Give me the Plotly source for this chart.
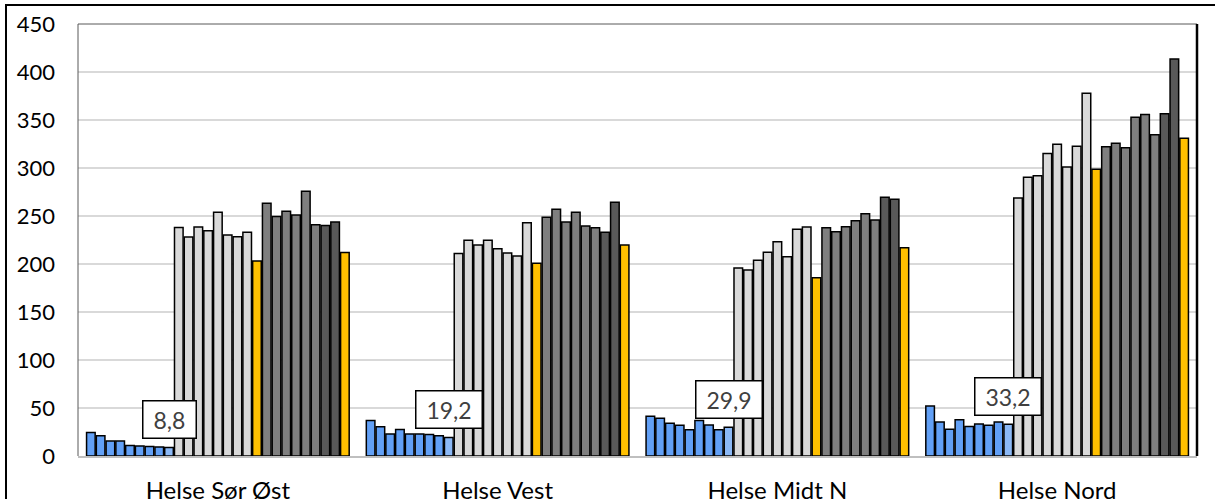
import plotly.graph_objects as go

groups = ["Helse Sør Øst", "Helse Vest", "Helse Midt N", "Helse Nord"]

# 27 bars per group: 9 blue, 8 light grey + 1 yellow, 8 dark grey + 1 yellow
vals_hso = [24.5, 21.0, 15.5, 15.5, 11.0, 10.5, 10.0, 9.5, 8.8,
            238.0, 228.0, 238.5, 234.7, 253.8, 230.2, 228.5, 233.0, 203.0,
            263.2, 249.6, 254.9, 251.0, 275.7, 241.0, 240.0, 243.7, 212.0]
vals_vest = [37.0, 30.5, 23.0, 27.5, 23.0, 23.0, 22.5, 21.0, 19.2,
             211.0, 224.7, 219.8, 224.7, 216.0, 211.5, 208.3, 243.0, 200.7,
             248.6, 257.0, 243.7, 253.8, 239.6, 237.8, 233.0, 264.2, 219.8]
vals_midt = [41.3, 39.2, 34.0, 32.0, 27.4, 37.1, 32.3, 27.4, 29.9,
             195.8, 193.8, 203.8, 212.2, 223.3, 207.6, 236.1, 238.5, 185.8,
             237.8, 233.7, 238.9, 245.1, 252.4, 245.8, 269.5, 267.4, 217.0]
vals_nord = [52.0, 35.4, 27.8, 37.8, 30.6, 33.3, 32.0, 35.4, 33.2,
             268.8, 290.3, 292.0, 315.0, 324.7, 301.0, 322.6, 377.8, 298.6,
             322.2, 325.7, 321.1, 352.8, 355.6, 334.7, 356.6, 413.5, 331.0]

label_values = [8.8, 19.2, 29.9, 33.2]
label_texts = ["8,8", "19,2", "29,9", "33,2"]

y_ticks = [0, 50, 100, 150, 200, 250, 300, 350, 400, 450]

BLUE = "#62a0f6"
BLUE_L = "#8cb9f6"
LGREY = "#d9d9d9"
YEL = "#ffc000"
DGREY = "#7f7f7f"
DDGREY = "#595959"
colors = [BLUE] * 8 + [BLUE_L] + [LGREY] * 8 + [YEL] + [DGREY] * 6 + [DDGREY] * 2 + [YEL]

table = [vals_hso, vals_vest, vals_midt, vals_nord]

fig = go.Figure()
for k in range(27):
    fig.add_trace(go.Bar(
        x=groups,
        y=[row[k] for row in table],
        marker=dict(color=colors[k], line=dict(color="#000000", width=1.5)),
        showlegend=False,
        hoverinfo="y",
    ))

font_family = "Lato, 'Open Sans', sans-serif"
BARGAP = 0.057
# position of the 9th bar centre relative to category centre (in category units)
slot = (1 - BARGAP) / 27
off = -(1 - BARGAP) / 2 + 8.5 * slot

annotations = []
for i, (v, t) in enumerate(zip(label_values, label_texts)):
    annotations.append(dict(
        x=i + off, y=v, xref="x", yref="y", yshift=28,
        text="\u00a0" + t + "\u00a0", showarrow=False,
        font=dict(family=font_family, size=23, color="#404040"),
        bgcolor="#ffffff", bordercolor="#000000", borderwidth=1.5, borderpad=4,
    ))

W, H = 1215, 499
ml, mr, mt, mb = 78, 18, 24, 43
pw = W - ml - mr
ph = H - mt - mb
px = lambda p: (p - ml) / pw
py = lambda p: (H - mb - p) / ph

shapes = [
    # outer frame
    dict(type="rect", xref="paper", yref="paper", x0=px(6), x1=1.2, y0=-0.3, y1=py(5),
         line=dict(color="#000000", width=2), fillcolor="rgba(0,0,0,0)", layer="above"),
    # plot area border: left, top (thin), right (thick)
    dict(type="line", xref="paper", yref="paper", x0=0, x1=0, y0=0, y1=1,
         line=dict(color="#595959", width=1), layer="above"),
    dict(type="line", xref="paper", yref="paper", x0=0, x1=1, y0=1, y1=1,
         line=dict(color="#595959", width=1), layer="above"),
    dict(type="line", xref="paper", yref="paper", x0=1, x1=1, y0=0, y1=1,
         line=dict(color="#000000", width=2.5), layer="above"),
]

fig.update_layout(
    width=W, height=H,
    margin=dict(l=ml, r=mr, t=mt, b=mb),
    paper_bgcolor="#ffffff", plot_bgcolor="#ffffff",
    barmode="group", bargap=BARGAP, bargroupgap=0.12,
    font=dict(family=font_family, color="#000000"),
    annotations=annotations,
    shapes=shapes,
    xaxis=dict(
        showgrid=False, showline=True, linecolor="#bfbfbf", linewidth=1.5,
        tickfont=dict(size=24, color="#000000"), ticks="",
        ticklabelstandoff=12, automargin=False,
    ),
    yaxis=dict(
        range=[0, 450], tickvals=y_ticks, ticktext=[str(v) for v in y_ticks],
        showgrid=True, gridcolor="#d9d9d9", gridwidth=1.5,
        zeroline=False, showline=False,
        tickfont=dict(size=22, color="#000000"), ticks="",
        ticklabelstandoff=22, automargin=False,
    ),
)

fig.write_html("out.html", config={"displayModeBar": False},
               post_script="document.body.style.margin='0';")
